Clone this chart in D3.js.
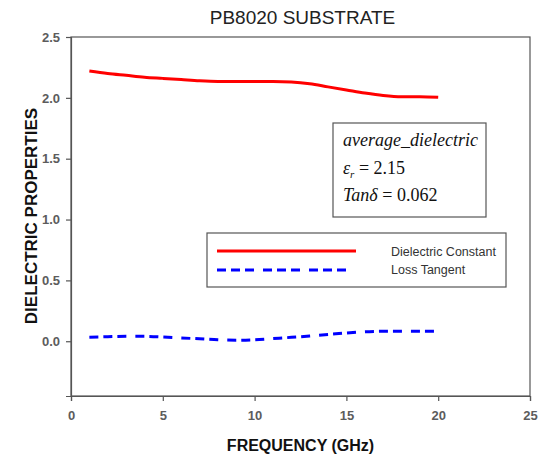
<!DOCTYPE html>
<html>
<head>
<meta charset="utf-8">
<script src="https://cdn.jsdelivr.net/npm/d3@7"></script>
<style>
  body { margin: 0; background: #fff; }
  svg { display: block; }
  .tick text { font-family: Arial, "Liberation Sans", sans-serif; font-size: 13px; font-weight: bold; fill: #5c5c5c; }
</style>
</head>
<body>
<svg id="chart" width="547" height="459"></svg>
<script>
// frequency points (GHz)
var freq = [1, 2, 3, 4, 5, 6, 7, 8, 9, 10, 11, 12, 13, 14, 15, 16, 17, 18, 19, 20];
// dielectric constant
var dielectric = [2.22, 2.20, 2.185, 2.17, 2.16, 2.15, 2.14, 2.135, 2.135, 2.135,
                  2.135, 2.13, 2.115, 2.09, 2.065, 2.04, 2.02, 2.01, 2.01, 2.005];
// loss tangent
var lossTangent = [0.033, 0.037, 0.04, 0.04, 0.035, 0.027, 0.02, 0.012, 0.008, 0.012,
                   0.022, 0.032, 0.043, 0.055, 0.068, 0.078, 0.082, 0.083, 0.083, 0.083];
var xTicks = [0, 5, 10, 15, 20, 25];
var yTicks = [0.0, 0.5, 1.0, 1.5, 2.0, 2.5];
var seriesNames = ['Dielectric Constant', 'Loss Tangent'];

var svg = d3.select('#chart');
var pLeft = 71, pRight = 530, pTop = 37, pBottom = 396;

var x = d3.scaleLinear().domain([0, 25]).range([pLeft, pRight]);
var y = d3.scaleLinear().domain([-0.45, 2.5]).range([pBottom, pTop]);

// frame
svg.append('rect')
  .attr('x', pLeft).attr('y', pTop)
  .attr('width', pRight - pLeft).attr('height', pBottom - pTop)
  .attr('fill', 'none').attr('stroke', '#555').attr('stroke-width', 1.2);

var xAxis = svg.append('g')
  .attr('transform', 'translate(0,' + pBottom + ')')
  .call(d3.axisBottom(x).tickValues(xTicks).tickSize(5).tickPadding(10).tickFormat(d3.format('d')));
var yAxis = svg.append('g')
  .attr('transform', 'translate(' + pLeft + ',0)')
  .call(d3.axisLeft(y).tickValues(yTicks).tickSize(5).tickPadding(6).tickFormat(d3.format('.1f')));
[xAxis, yAxis].forEach(function(a) {
  a.select('.domain').attr('stroke', '#555').attr('stroke-width', 1.2);
  a.selectAll('.tick line').attr('stroke', '#555').attr('stroke-width', 1.2);
});

var line = d3.line()
  .x(function(d) { return x(d[0]); })
  .y(function(d) { return y(d[1]); })
  .curve(d3.curveMonotoneX);

var dash = '9,5,9,5,9,9';

svg.append('path')
  .datum(d3.zip(freq, dielectric))
  .attr('d', line)
  .attr('fill', 'none').attr('stroke', '#ff0000').attr('stroke-width', 3);

svg.append('path')
  .datum(d3.zip(freq, lossTangent))
  .attr('d', line)
  .attr('fill', 'none').attr('stroke', '#0000ff').attr('stroke-width', 3)
  .attr('stroke-dasharray', dash);

// title + axis labels
svg.append('text')
  .attr('x', (pLeft + pRight) / 2 + 2).attr('y', 24)
  .attr('text-anchor', 'middle')
  .style('font-family', 'Arial, "Liberation Sans", sans-serif')
  .style('font-size', '19px').style('fill', '#222')
  .text('PB8020 SUBSTRATE');

svg.append('text')
  .attr('x', (pLeft + pRight) / 2).attr('y', 451)
  .attr('text-anchor', 'middle')
  .style('font-family', 'Arial, "Liberation Sans", sans-serif')
  .style('font-size', '16px').style('font-weight', 'bold').style('fill', '#111')
  .text('FREQUENCY (GHz)');

svg.append('text')
  .attr('transform', 'translate(37,' + 216 + ') rotate(-90)')
  .attr('text-anchor', 'middle')
  .style('font-family', 'Arial, "Liberation Sans", sans-serif')
  .style('font-size', '17px').style('font-weight', 'bold').style('fill', '#111')
  .text('DIELECTRIC PROPERTIES');

// legend
var lg = svg.append('g');
lg.append('rect')
  .attr('x', 207).attr('y', 233).attr('width', 299).attr('height', 54)
  .attr('fill', '#fff').attr('stroke', '#555').attr('stroke-width', 1.2);
lg.append('line')
  .attr('x1', 217).attr('x2', 356).attr('y1', 251).attr('y2', 251)
  .attr('stroke', '#ff0000').attr('stroke-width', 3);
lg.append('line')
  .attr('x1', 217).attr('x2', 346).attr('y1', 270).attr('y2', 270)
  .attr('stroke', '#0000ff').attr('stroke-width', 3).attr('stroke-dasharray', dash);
lg.selectAll('text.lbl')
  .data(seriesNames)
  .enter().append('text')
  .attr('class', 'lbl')
  .attr('x', 391)
  .attr('y', function(d, i) { return 256 + i * 18; })
  .style('font-family', 'Arial, "Liberation Sans", sans-serif')
  .style('font-size', '12.5px').style('fill', '#333')
  .text(function(d) { return d; });

// annotation box
var ab = svg.append('g');
ab.append('rect')
  .attr('x', 333).attr('y', 123).attr('width', 153).attr('height', 94)
  .attr('fill', '#fff').attr('stroke', '#555').attr('stroke-width', 1.2);
var serif = '"Times New Roman", "Liberation Serif", serif';
ab.append('text')
  .attr('x', 343).attr('y', 146)
  .style('font-family', serif).style('font-size', '18px').style('font-style', 'italic').style('fill', '#111')
  .text('average_dielectric');
var t2 = ab.append('text')
  .attr('x', 343).attr('y', 174)
  .style('font-family', serif).style('font-size', '18px').style('fill', '#111');
t2.append('tspan').style('font-style', 'italic').text('\u03b5');
t2.append('tspan').style('font-style', 'italic').style('font-size', '11px').attr('dy', 4).text('r');
t2.append('tspan').attr('dy', -4).text(' = 2.15');
var t3 = ab.append('text')
  .attr('x', 343).attr('y', 201)
  .style('font-family', serif).style('font-size', '18px').style('fill', '#111');
t3.append('tspan').style('font-style', 'italic').text('Tan\u03b4');
t3.append('tspan').text(' = 0.062');
</script>
</body>
</html>
